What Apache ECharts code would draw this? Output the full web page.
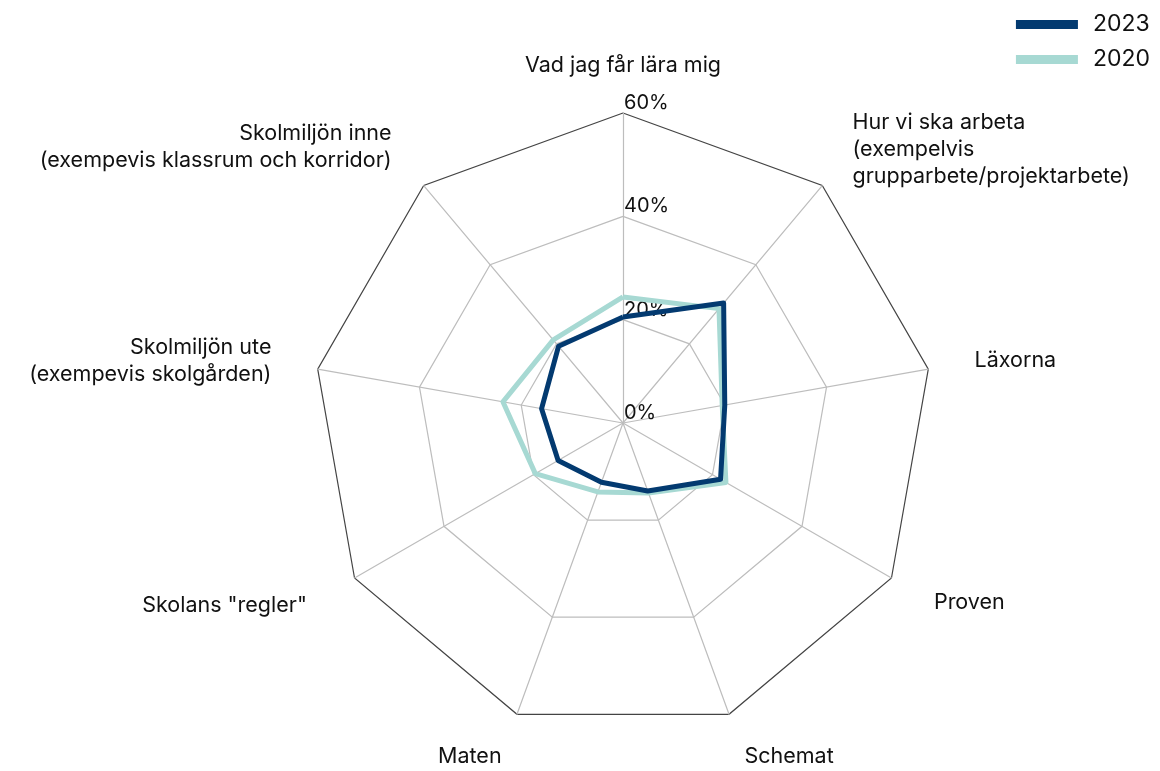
<!DOCTYPE html>
<html><head><meta charset="utf-8">
<script src="https://cdn.jsdelivr.net/npm/echarts@6/dist/echarts.min.js"></script>
<style>html,body{margin:0;padding:0;background:#fff}#c{width:1160px;height:771px}</style>
</head><body><div id="c"></div>
<script>
// Categories in clockwise order starting from the top
const categories = [
  'Vad jag får lära mig',
  'Hur vi ska arbeta\n(exempelvis\ngrupparbete/projektarbete)',
  'Läxorna',
  'Proven',
  'Schemat',
  'Maten',
  'Skolans "regler"',
  'Skolmiljön ute\n(exempevis skolgården)',
  'Skolmiljön inne\n(exempevis klassrum och korridor)'
];
const values2023 = [20.5, 30.3, 20, 21.8, 14, 12.2, 14.5, 16, 19.4];
const values2020 = [24.4, 28.9, 19.5, 23, 14.4, 14.2, 19.6, 23.6, 21];
const seriesNames = ['2023', '2020'];
const tickLabels = ['0%', '20%', '40%', '60%'];
const axisMax = 60;

// layout: distance of each category name from the outer ring
const nameGaps = [34, 47, 47, 49, 45, 45, 55, 47, 50];

// ECharts radar goes counter-clockwise; reorder so the picture goes clockwise.
const order = [0].concat(categories.map((_, i) => i).slice(1).reverse());
const FONT = 'Inter';
const indicator = order.map((i, k) => {
  const ind = { name: categories[i], max: axisMax, min: 0, nameGap: nameGaps[i] };
  if (k === 0) ind.axisLabel = { show: true, align: 'left', verticalAlign: 'bottom', margin: -1 };
  return ind;
});
const reorder = arr => order.map(i => arr[i]);

const chart = echarts.init(document.getElementById('c'));
chart.setOption({
  animation: false,
  legend: {
    orient: 'vertical', right: 5, top: 8, itemGap: 12,
    icon: 'rect', itemWidth: 62, itemHeight: 9,
    textStyle: { fontFamily: FONT, fontSize: 23, color: '#111', padding: [0, 0, 0, 10] },
    data: seriesNames
  },
  radar: {
    center: [623, 423],
    radius: 310,
    startAngle: 90,
    splitNumber: 3,
    shape: 'polygon',
    indicator: indicator,
    axisName: { color: '#111', fontFamily: FONT, fontSize: 21.5, lineHeight: 27 },
    axisLine: { lineStyle: { color: '#bdbdbd', width: 1.2 } },
    splitLine: { lineStyle: { color: ['#bdbdbd', '#bdbdbd', '#bdbdbd', '#444'], width: 1.2 } },
    splitArea: { show: false },
    axisTick: { show: false },
    axisLabel: {
      show: false, fontFamily: FONT, fontSize: 20, color: '#111',
      formatter: v => tickLabels[Math.round(v / 20)]
    }
  },
  series: [{
    type: 'radar',
    symbol: 'none',
    data: [
      { name: seriesNames[1], value: reorder(values2020), lineStyle: { color: '#a7d9d3', width: 5 }, itemStyle: { color: '#a7d9d3' } },
      { name: seriesNames[0], value: reorder(values2023), lineStyle: { color: '#033a70', width: 5 }, itemStyle: { color: '#033a70' } }
    ]
  }]
});
</script></body></html>
